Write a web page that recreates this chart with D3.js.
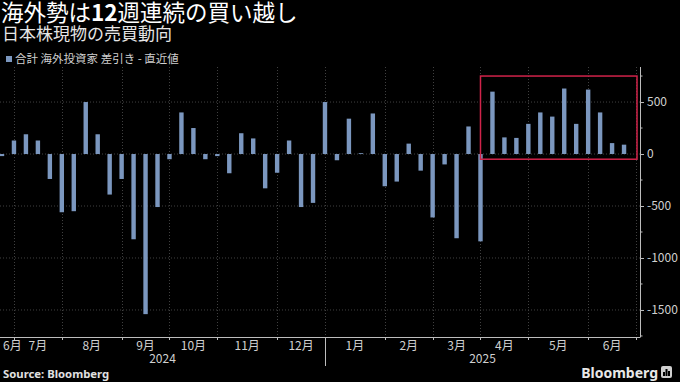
<!DOCTYPE html>
<html><head><meta charset="utf-8">
<script src="https://cdn.jsdelivr.net/npm/d3@7/dist/d3.min.js"></script>
<style>html,body{margin:0;padding:0;background:#000;}svg{display:block;}</style>
</head><body>
<script>
// ---- data ----
const weeks = [
  "2024-06-28","2024-07-05","2024-07-12","2024-07-19","2024-07-26",
  "2024-08-02","2024-08-09","2024-08-16","2024-08-23","2024-08-30",
  "2024-09-06","2024-09-13","2024-09-20","2024-09-27",
  "2024-10-04","2024-10-11","2024-10-18","2024-10-25",
  "2024-11-01","2024-11-08","2024-11-15","2024-11-22","2024-11-29",
  "2024-12-06","2024-12-13","2024-12-20","2024-12-27",
  "2025-01-03","2025-01-10","2025-01-17","2025-01-24","2025-01-31",
  "2025-02-07","2025-02-14","2025-02-21","2025-02-28",
  "2025-03-07","2025-03-14","2025-03-21","2025-03-28",
  "2025-04-04","2025-04-11","2025-04-18","2025-04-25",
  "2025-05-02","2025-05-09","2025-05-16","2025-05-23","2025-05-30",
  "2025-06-06","2025-06-13","2025-06-20","2025-06-27"
];
const netForeign = [
  -20, 130, 190, 130, -240,
  -560, -550, 500, 190, -390,
  -240, -820, -1540, -510,
  -50, 400, 250, -50,
  -20, -185, 200, 150, -330,
  -180, 130, -510, -470,
  500, -60, 340, 8, 390,
  -310, -265, 100, -160,
  -610, -100, -810, 265,
  -840, 600, 160, 155,
  290, 400, 360, 630, 290,
  620, 400, 105, 90
];
const monthLabels = ["6月","7月","8月","9月","10月","11月","12月","1月","2月","3月","4月","5月","6月"];
const yearLabels = ["2024","2025"];
const yTicks = [-1500, -1000, -500, 0, 500];
const yMinorTicks = [-1750, -1250, -750, -250, 250, 750];
const highlight = {from: "2025-04-11", to: "2025-06-27", low: -50, high: 750};
const title = ["海外勢は", "12", "週連続の買い越し"];
const subtitle = "日本株現物の売買動向";
const legendLabel = "合計 海外投資家 差引き - 直近値";

// ---- layout ----
const W = 680, H = 382;
const plotTop = 67, plotBottom = 337, plotRight = 640;
const barColor = "#7b97bf";
const cjk = "'Noto Sans CJK JP','Noto Sans',sans-serif";

const parse = d3.timeParse("%Y-%m-%d");
const dates = weeks.map(parse);
const endDate = d3.timeFriday.offset(dates[dates.length - 1], 1);

const x = d3.scaleTime().domain([dates[0], endDate]).range([2, 636]);
const y = d3.scaleLinear().domain([-1760, 837]).range([plotBottom, plotTop]);

const svg = d3.select("body").append("svg").attr("width", W).attr("height", H)
  .style("background", "#000");

// titles
const t = svg.append("text").attr("x", 1).attr("y", 21).attr("fill", "#fff")
  .style("font-family", cjk).style("font-size", "22.5px");
t.append("tspan").text(title[0]);
t.append("tspan").attr("font-weight", "bold").text(title[1]);
t.append("tspan").text(title[2]);

svg.append("text").attr("x", 2).attr("y", 40).attr("fill", "#e6e6e6")
  .style("font-family", cjk).style("font-size", "17px").text(subtitle);

svg.append("rect").attr("x", 6).attr("y", 56).attr("width", 6).attr("height", 6).attr("fill", barColor);
svg.append("text").attr("x", 15).attr("y", 63).attr("fill", "#cfcfcf")
  .style("font-family", cjk).style("font-size", "11.5px").text(legendLabel);

// month boundaries (first week of each month)
const tickDates = [];
dates.forEach((d, i) => { if (i > 0 && d.getMonth() !== dates[i - 1].getMonth()) tickDates.push(d); });
tickDates.push(endDate);

const grid = svg.append("g");
grid.selectAll("line.h").data(yTicks).join("line")
  .attr("x1", 0).attr("x2", plotRight).attr("y1", d => y(d)).attr("y2", d => y(d))
  .attr("stroke", "#404040").attr("stroke-width", 1).attr("stroke-dasharray", "1,2");
grid.selectAll("line.v").data(tickDates).join("line")
  .attr("x1", d => Math.round(x(d)) + 0.5).attr("x2", d => Math.round(x(d)) + 0.5)
  .attr("y1", plotTop).attr("y2", plotBottom)
  .attr("stroke", "#404040").attr("stroke-width", 1).attr("stroke-dasharray", "1,2");

// bars
const bw = 4.4;
svg.append("g").selectAll("rect").data(netForeign).join("rect")
  .attr("x", (d, i) => x(dates[i]) - bw / 2)
  .attr("width", bw)
  .attr("y", d => y(Math.max(0, d)))
  .attr("height", d => Math.abs(y(d) - y(0)))
  .attr("fill", barColor);

// highlight box
const step = x(endDate) - x(dates[dates.length - 1]);
const hx0 = x(parse(highlight.from)) - step, hx1 = x(parse(highlight.to)) + step + 1;
svg.append("rect").attr("x", hx0).attr("y", y(highlight.high))
  .attr("width", hx1 - hx0).attr("height", y(highlight.low) - y(highlight.high))
  .attr("fill", "none").attr("stroke", "#d0234a").attr("stroke-width", 1.5);

// y axis
const yAxisG = svg.append("g").attr("transform", `translate(${plotRight},0)`);
yAxisG.call(d3.axisRight(y).tickValues(yTicks).tickSize(4).tickPadding(3).tickFormat(d3.format("d")));
yAxisG.select(".domain").attr("d", `M0.5,${plotTop}V${plotBottom}`).attr("stroke", "#bdbdbd");
yAxisG.selectAll(".tick line").attr("stroke", "#bdbdbd");
yAxisG.selectAll(".tick text").attr("fill", "#d0d0d0")
  .style("font-family", cjk).style("font-size", "12px").text(d => d < 0 ? "-" + Math.abs(d) : d);
yAxisG.selectAll("line.minor").data(yMinorTicks.filter(v => y(v) >= plotTop && y(v) <= plotBottom)).join("line")
  .attr("class", "minor").attr("x1", 0).attr("x2", 2.5).attr("y1", d => y(d)).attr("y2", d => y(d))
  .attr("stroke", "#bdbdbd");

// x axis
const xAxisG = svg.append("g");
xAxisG.append("line").attr("x1", 0).attr("x2", plotRight + 0.5).attr("y1", plotBottom + 0.5).attr("y2", plotBottom + 0.5)
  .attr("stroke", "#bdbdbd");
xAxisG.selectAll("line.tk").data(tickDates).join("line").attr("class", "tk")
  .attr("x1", d => Math.round(x(d)) + 0.5).attr("x2", d => Math.round(x(d)) + 0.5)
  .attr("y1", plotBottom).attr("y2", plotBottom + 3).attr("stroke", "#bdbdbd");

const bounds = [0].concat(tickDates.map(d => x(d)));
const mLab = xAxisG.selectAll("text.m").data(monthLabels).join("text").attr("class", "m")
  .attr("y", 350).attr("fill", "#d0d0d0").attr("text-anchor", "middle")
  .style("font-family", cjk).style("font-size", "12px").text(d => d);
mLab.each(function(d, i) {
  const mid = (bounds[i] + bounds[i + 1]) / 2;
  const half = this.getComputedTextLength() / 2;
  d3.select(this).attr("x", Math.max(mid, 3 + half));
});

const janTick = tickDates.find(d => d.getMonth() === 0);
const xs = Math.round(x(janTick)) + 0.5;
xAxisG.append("line").attr("x1", xs).attr("x2", xs).attr("y1", plotBottom).attr("y2", 366)
  .attr("stroke", "#bdbdbd");
const yearSpans = [[0, x(janTick)], [x(janTick), plotRight]];
xAxisG.selectAll("text.y").data(yearLabels).join("text").attr("class", "y")
  .attr("x", (d, i) => (yearSpans[i][0] + yearSpans[i][1]) / 2).attr("y", 363)
  .attr("fill", "#d0d0d0").attr("text-anchor", "middle")
  .style("font-family", cjk).style("font-size", "12px").text(d => d);

// footer
svg.append("text").attr("x", 3).attr("y", 378).attr("fill", "#e0e0e0")
  .style("font-family", "'Noto Sans',sans-serif").style("font-weight", "bold").style("font-size", "11.3px")
  .text("Source: Bloomberg");
svg.append("text").attr("x", 658).attr("y", 378).attr("fill", "#e8e8e8").attr("text-anchor", "end")
  .style("font-family", "'Noto Sans',sans-serif").style("font-weight", "bold").style("font-size", "14px")
  .text("Bloomberg");
const logo = svg.append("g").attr("transform", "translate(661,366)");
logo.append("rect").attr("width", 11).attr("height", 12).attr("rx", 2).attr("fill", "#cfcfcf");
[[2,6,2,4],[4.5,3,2,7],[7,5,2,5]].forEach(b => logo.append("rect")
  .attr("x", b[0]).attr("y", b[1]).attr("width", b[2]).attr("height", b[3]).attr("fill", "#000"));
</script>
</body></html>
